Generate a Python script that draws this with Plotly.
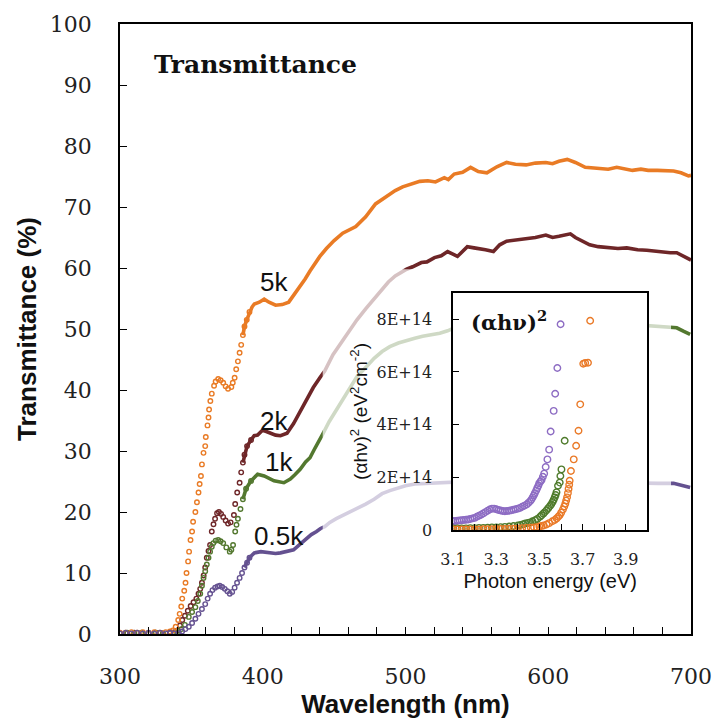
import plotly.graph_objects as go

# ---------------- data ----------------
SERIES = ["5k", "2k", "1k", "0.5k"]

wl_5k = [300, 304, 308, 312, 316, 320, 324, 328, 332, 335, 337,
         339, 340.8, 341.8, 342.9, 343.6, 345, 345.9, 346.6, 347.7, 348.4, 349.4, 350.5, 351.2,
         352.8, 353.9, 355, 355.8, 356.7, 357.4, 358.5, 359.7, 360.1, 361.3, 362, 362.4, 363.3,
         364.3, 365.9, 367, 368.8, 370.5, 372.3, 374, 375.7, 378, 379, 380.3, 381.4, 382.6, 383.8,
         384.9, 386.1, 387.2, 388.8, 390.7, 392.5, 394.1, 397.6, 401, 404.4, 409, 413.6, 418.2,
         421.6, 425.1, 429.7, 433.1, 437.7, 440, 444.6, 450, 456, 465.2, 472.1, 479, 485.9, 492.8,
         498, 504.3, 510, 515.7, 521, 527.2, 530, 534.1, 540, 545.6, 551, 557, 564, 570.8, 577,
         584.5, 591, 598.3, 603, 607.5, 613.3, 619, 625.9, 632, 642, 648, 653.4, 659, 664.9, 670,
         676.4, 682, 687.8, 693, 698.2, 700]
t_5k = [0.2, 0.2, 0.3, 0.2, 0.3, 0.2, 0.3, 0.2, 0.3, 0.4, 0.6,
        1.2, 2.3, 3.3, 4.5, 5.8, 7.1, 8.4, 10, 11.9, 13.5, 15.4, 16.8, 18.4,
        20, 21.6, 23.2, 24.6, 25.9, 27.8, 29.7, 30.8, 32.3, 34.2, 35.5, 36.8, 38.2,
        39.4, 40.7, 41.4, 41.8, 41.6, 41.2, 40.6, 40.2, 40.5, 41.2, 42, 43.4, 44.7, 46.1,
        47.4, 49, 50.4, 51.5, 52.8, 53.6, 54.1, 54.4, 54.9, 54.4, 53.9, 54, 54.4,
        55.5, 56.8, 58.2, 59.5, 61.2, 61.9, 63.2, 64.5, 65.7, 66.8, 68.4, 70.5, 71.6, 72.7,
        73.3, 73.8, 74.2, 74.3, 74.1, 74.8, 74.5, 75.4, 75.7, 76.5, 75.8, 75.6, 76.6, 77.3, 77.0,
        76.9, 77.2, 77.3, 77.1, 77.5, 77.8, 77.3, 76.5, 76.4, 76.2, 76.5, 76.2, 76.0, 76.2, 76.0,
        76.0, 75.9, 75.9, 75.6, 75.1, 75.2]

wl_2k = [300, 305, 310, 315, 320, 325, 330, 335, 338,
         340.2, 342, 343.6, 345.5, 347.5, 349.5, 351.5, 353.5, 355, 356.2, 357.4, 358.6, 359.7,
         360.8, 362, 363.1, 364.3, 365.5, 366.6, 368, 369.3, 370.8, 372.3, 374, 375.7, 377.5,
         379.8, 380.7, 382.1, 383.8, 384.9, 386.1, 387.2, 389, 391.8, 394, 396.4, 399.8, 402.5,
         405.5, 409, 412.4, 417, 421.6, 426.2, 430.8, 435.4, 440, 443.4, 449.2, 455, 460.6, 466,
         472.1, 478, 483.6, 488, 492.8, 497, 500.8, 505, 511.1, 515, 520.3, 525, 529.5, 536.4,
         543.3, 548, 552.4, 556, 561.6, 566, 570.8, 577, 584.5, 591, 598.3, 603, 607.5, 611,
         615.5, 619, 623.6, 629, 635, 642, 648.8, 655, 662.6, 669, 676.4, 681, 685.5, 690, 694,
         698.2, 700]
t_2k = [0.1, 0.1, 0.2, 0.1, 0.1, 0.2, 0.1, 0.2, 0.3,
        0.6, 1.4, 2.3, 3.0, 3.8, 4.6, 5.2, 5.8, 6.6, 7.4, 8.4, 9.6, 10.9,
        12.5, 13.6, 14.6, 16.8, 18.0, 18.9, 19.8, 20.0, 19.7, 19.2, 18.6, 18.1, 18.3,
        19.5, 21.3, 23.2, 24.8, 26.5, 28.1, 29.4, 30.8, 31.8, 32.5, 32.6, 33.4, 33.2,
        32.9, 32.6, 32.5, 32.9, 34.5, 36.4, 38.3, 40.4, 42, 43.1, 45.8, 47.8, 49.6, 51.5,
        53.3, 55.0, 56.6, 57.7, 58.7, 59.3, 59.8, 60.2, 60.9, 61.0, 61.7, 62.0, 62.7, 61.9,
        63.5, 63.3, 63.2, 63.0, 62.7, 63.8, 64.4, 64.6, 64.9, 65.0, 65.4, 65.0, 65.2, 65.4,
        65.6, 65.0, 64.4, 63.8, 63.5, 63.4, 63.2, 63.3, 63.0, 62.9, 62.7, 62.6, 62.5, 62.5, 62.0,
        61.4, 61.3]

wl_1k = [300, 305, 310, 315, 320, 325, 330, 335, 340,
         343, 345.5, 348.2, 350.5, 352.8, 354.5, 356.2, 357.4, 358.5, 359.7, 360.8, 362, 363.1,
         364.3, 365.4, 367, 368.8, 370.5, 372.3, 374.5, 376.9, 378, 379.2, 380.7, 381.6, 382.6,
         384.4, 386.1, 388.3, 391.8, 396.4, 401, 404, 407.9, 414.8, 419.3, 422.5, 426.2, 430,
         433.1, 436, 438.8, 442.3, 446.5, 451.5, 456, 460.6, 466, 472.1, 478, 483.6, 489, 495,
         500, 506.5, 512, 518, 524, 529.5, 535, 541, 546, 552.4, 560, 567, 575.4, 583, 590,
         598.3, 605, 611, 616.7, 621, 625.9, 634, 644.2, 655, 667.2, 676, 685.5, 690, 695, 699.4]
t_1k = [0.1, 0.2, 0.1, 0.2, 0.1, 0.2, 0.1, 0.2, 0.3,
        0.8, 1.5, 2.8, 3.6, 4.4, 5.4, 6.6, 7.9, 9.2, 10.3, 11.4, 12.5, 13.5,
        14.3, 14.9, 15.3, 15.4, 15.2, 14.9, 14.2, 13.5, 13.8, 14.6, 16.8, 17.9, 18.9,
        20.5, 22.1, 23.8, 25.1, 26.2, 25.9, 25.5, 25.1, 24.8, 25.4, 26.1, 27, 28.2,
        28.9, 30.2, 31.3, 32.9, 34.8, 36.7, 38.6, 40.4, 42.2, 43.7, 45.2, 46.3, 47.1, 47.7,
        48.1, 48.5, 48.8, 49, 49.3, 49.7, 50.3, 50.9, 51.2, 51.5, 51.7, 51.9, 52, 52.2, 52.1,
        52.3, 52.6, 52.4, 52.5, 52.3, 52, 51.4, 50.9, 50.8, 50.6, 50.5, 50.4, 50.2, 49.6, 49.1]

wl_05k = [300, 304, 308, 312, 316, 320, 324, 328, 332, 335, 338, 341.3,
          343.5, 345.8, 348.2, 350.5, 352.8, 355, 357.4, 359.7, 361.4, 363.1, 364.8, 366.6,
          368.3, 369.9, 371.6, 373.4, 375.2, 376.9, 378.6, 380.3, 382, 383.8, 385.5, 387.2, 389,
          390.7, 392.4, 394.1, 398.7, 402, 405.5, 409, 412.4, 417, 421.6, 426, 430.8, 434, 437.7,
          440.5, 443.4, 447, 451.5, 456, 460.6, 466, 472.1, 478, 483.6, 489, 495, 500, 506.5, 518,
          529.5, 540, 552.4, 564, 575.4, 587, 598.3, 610, 621.3, 632, 644.2, 655, 667.2, 677,
          687.8, 694, 699.4]
t_05k = [0.1, 0.2, 0.1, 0.2, 0.1, 0.2, 0.1, 0.2, 0.1, 0.2, 0.1, 0.1,
         0.4, 0.8, 1.2, 1.8, 2.5, 3.3, 4.1, 4.9, 5.8, 6.6, 7.2, 7.6,
         7.8, 7.9, 7.7, 7.4, 7.0, 6.6, 6.9, 7.6, 8.4, 9.2, 10.0, 10.9, 11.7,
         12.5, 12.9, 13.3, 13.5, 13.4, 13.3, 13.2, 13.3, 13.5, 13.8, 14.7, 15.7, 16.3, 16.8,
         17.3, 17.6, 18.3, 18.9, 19.4, 20, 20.6, 21.3, 22.1, 23, 23.5, 24, 24.3, 24.6, 24.7,
         24.8, 25.0, 25.1, 25.3, 25.4, 25.2, 25.2, 25.3, 25.4, 25.1, 24.8, 24.8, 24.7, 24.7,
         24.7, 24.4, 24.0]

# inset: photon energy (eV) vs (alpha h nu)^2 in units of 1E+14 eV^2 cm^-2
e_05k = [3.10, 3.11, 3.12, 3.13, 3.14, 3.15, 3.16, 3.17, 3.18, 3.19, 3.20, 3.21, 3.22, 3.23,
         3.24, 3.25, 3.26, 3.27, 3.28, 3.29, 3.30, 3.31, 3.32, 3.33, 3.34, 3.35, 3.36, 3.37,
         3.38, 3.39, 3.40, 3.41, 3.42, 3.43, 3.441, 3.449, 3.457, 3.463, 3.469, 3.474, 3.479,
         3.485, 3.490, 3.495, 3.499, 3.505, 3.510, 3.516, 3.522, 3.529, 3.537, 3.545, 3.552,
         3.566, 3.573, 3.583, 3.598]
a_05k = [0.34, 0.34, 0.35, 0.36, 0.37, 0.38, 0.39, 0.40, 0.42, 0.44, 0.46, 0.50, 0.54, 0.58,
         0.63, 0.68, 0.73, 0.78, 0.81, 0.81, 0.79, 0.76, 0.74, 0.72, 0.71, 0.72, 0.73, 0.75,
         0.77, 0.79, 0.81, 0.84, 0.88, 0.92, 0.97, 1.03, 1.09, 1.16, 1.24, 1.32, 1.40,
         1.50, 1.59, 1.68, 1.77, 1.84, 1.90, 2.02, 2.14, 2.39, 2.68, 3.05, 3.74,
         4.52, 5.17, 6.15, 7.81]

e_1k = [3.10, 3.12, 3.14, 3.16, 3.18, 3.20, 3.22, 3.24, 3.26, 3.28, 3.30, 3.32, 3.34, 3.36,
        3.38, 3.40, 3.412, 3.425, 3.435, 3.447, 3.457, 3.468, 3.48, 3.49, 3.503, 3.51, 3.518,
        3.525, 3.533, 3.541, 3.549, 3.555, 3.561, 3.566, 3.571, 3.575, 3.579, 3.586, 3.594,
        3.597, 3.602, 3.617]
a_1k = [0.06, 0.06, 0.06, 0.06, 0.07, 0.07, 0.08, 0.08, 0.09, 0.10, 0.10, 0.11, 0.12, 0.13,
        0.15, 0.17, 0.19, 0.22, 0.25, 0.27, 0.29, 0.33, 0.37, 0.42, 0.50, 0.56, 0.62,
        0.68, 0.75, 0.83, 0.91, 0.98, 1.06, 1.15, 1.24, 1.33, 1.43, 1.68, 1.80,
        2.05, 2.30, 3.39]

e_5k = [3.10, 3.12, 3.14, 3.16, 3.18, 3.20, 3.22, 3.24, 3.26, 3.28, 3.30, 3.32, 3.34, 3.36,
        3.38, 3.40, 3.42, 3.44, 3.46, 3.475, 3.488, 3.50, 3.51, 3.52, 3.533, 3.545, 3.56,
        3.571, 3.58, 3.587, 3.594, 3.601, 3.609, 3.615, 3.620, 3.624, 3.628, 3.632, 3.635,
        3.638, 3.64, 3.646, 3.659, 3.670, 3.681, 3.689, 3.703, 3.712, 3.725, 3.735]
a_5k = [0.02, 0.02, 0.02, 0.02, 0.02, 0.02, 0.02, 0.03, 0.03, 0.03, 0.04, 0.04, 0.04, 0.05,
        0.05, 0.06, 0.07, 0.08, 0.09, 0.10, 0.11, 0.13, 0.15, 0.17, 0.21, 0.26, 0.33,
        0.38, 0.44, 0.50, 0.56, 0.66, 0.78, 0.89, 1.00, 1.12, 1.24, 1.40, 1.56,
        1.72, 1.87, 2.24, 2.68, 3.20, 3.77, 4.77, 6.31, 6.34, 6.35, 7.94]

# tick labels
X_TICKS = [300, 400, 500, 600, 700]
Y_TICKS = list(range(0, 101, 10))
IX_TICKS = [3.1, 3.3, 3.5, 3.7, 3.9]
IX_TICKTEXT = ["3.1", "3.3", "3.5", "3.7", "3.9"]
IY_TICKS = [0, 2, 4, 6, 8]
IY_TICKTEXT = ["0", "2E+14", "4E+14", "6E+14", "8E+14"]

# ---------------- styling ----------------
COL = {"5k": "#E97B25", "2k": "#6E2628", "1k": "#53782F", "0.5k": "#645190"}
INSET_COL = {"0.5k": "#8D6CC3", "1k": "#4F7B2C", "5k": "#EA7A28"}
SPLIT = 392  # below: discrete circles, above: dense line
SERIF = "DejaVu Serif"
SANS = "Liberation Sans"

main = {"5k": (wl_5k, t_5k), "2k": (wl_2k, t_2k), "1k": (wl_1k, t_1k), "0.5k": (wl_05k, t_05k)}

fig = go.Figure()
for name in ["2k", "1k", "5k", "0.5k"]:
    wl, t = main[name]
    xm = [w for w in wl if w <= SPLIT]
    ym = [v for w, v in zip(wl, t) if w <= SPLIT]
    xl = [w for w in wl if w >= SPLIT - 6]
    yl = [v for w, v in zip(wl, t) if w >= SPLIT - 6]
    fig.add_trace(go.Scatter(x=xm, y=ym, mode="markers", showlegend=False,
                             marker=dict(symbol="circle-open", size=4.5, color=COL[name],
                                         line=dict(width=1.4, color=COL[name]))))
    fig.add_trace(go.Scatter(x=xl, y=yl, mode="lines", showlegend=False,
                             line=dict(color=COL[name], width=3.6)))

# translucent panel behind the inset (fades the curves underneath)
PANEL_X = [442, 686]
PANEL_Y = [2, 59.8]
fig.add_trace(go.Scatter(x=[PANEL_X[0], PANEL_X[1], PANEL_X[1], PANEL_X[0], PANEL_X[0]],
                         y=[PANEL_Y[0], PANEL_Y[0], PANEL_Y[1], PANEL_Y[1], PANEL_Y[0]],
                         mode="lines", fill="toself", fillcolor="rgba(255,255,255,0.72)",
                         line=dict(width=0), hoverinfo="skip", showlegend=False))

inset = {"0.5k": (e_05k, a_05k), "1k": (e_1k, a_1k), "5k": (e_5k, a_5k)}
for name in ["0.5k", "1k", "5k"]:
    e, a = inset[name]
    fig.add_trace(go.Scatter(x=e, y=a, mode="markers", xaxis="x2", yaxis="y2", showlegend=False,
                             marker=dict(symbol="circle-open", size=6.5, color=INSET_COL[name],
                                         line=dict(width=1.4, color=INSET_COL[name]))))

axis_common = dict(showline=True, linecolor="black", linewidth=1.5, mirror=True,
                   showgrid=False, zeroline=False, ticks="inside", ticklen=7,
                   tickwidth=1.3, tickcolor="black")

fig.update_layout(
    width=724, height=725,
    margin=dict(l=120, r=24, t=14, b=91),
    paper_bgcolor="white", plot_bgcolor="white",
    xaxis=dict(range=[300, 700], tickmode="array", tickvals=X_TICKS,
               minor=dict(ticks="inside", ticklen=7, tickwidth=1.3, tickcolor="black",
                          tick0=300, dtick=20, showgrid=False),
               tickfont=dict(family=SERIF, size=22, color="#222"), ticklabelstandoff=22,
               title=dict(text="<b>Wavelength (nm)</b>", standoff=6,
                          font=dict(family=SANS, size=26, color="#111")),
               **axis_common),
    yaxis=dict(range=[0, 100], tickmode="array", tickvals=Y_TICKS,
               tickfont=dict(family=SERIF, size=22, color="#222"), ticklabelstandoff=22,
               title=dict(text="<b>Transmittance (%)</b>", standoff=6,
                          font=dict(family=SANS, size=26, color="#111")),
               **axis_common),
    xaxis2=dict(domain=[0.5833, 0.9236], anchor="y2", range=[3.1, 4.0], tickmode="array",
                tickvals=IX_TICKS, ticktext=IX_TICKTEXT,
                minor=dict(ticks="inside", ticklen=6, tickwidth=1.3, tickcolor="black",
                           tick0=3.1, dtick=0.1, showgrid=False),
                tickfont=dict(family=SERIF, size=16, color="#222"), ticklabelstandoff=14,
                title=dict(text="Photon energy (eV)", standoff=6,
                           font=dict(family=SANS, size=20, color="#111")),
                **{**axis_common, "ticklen": 6}),
    yaxis2=dict(domain=[0.1705, 0.5592], anchor="x2", range=[0, 9], tickmode="array",
                tickvals=IY_TICKS, ticktext=IY_TICKTEXT,
                tickfont=dict(family=SERIF, size=16, color="#222"), ticklabelstandoff=16,
                title=dict(text="(αhν)<sup>2</sup> (eV<sup>2</sup>cm<sup>-2</sup>)", standoff=4,
                           font=dict(family=SANS, size=19, color="#111")),
                **{**axis_common, "ticklen": 6}),
)

ann = [
    dict(text="<b>Transmittance</b>", x=0.238, y=0.934, font=dict(family=SERIF, size=25)),
    dict(text="<b>(αhν)<sup>2</sup></b>", x=0.681, y=0.513, font=dict(family=SERIF, size=21)),
]
for a in ann:
    fig.add_annotation(xref="paper", yref="paper", showarrow=False,
                       xanchor="center", yanchor="middle",
                       **{**a, "font": {**a["font"], "color": "#111"}})

# curve labels
for txt, lx, ly in [("5k", 408, 57.7), ("2k", 408, 35.0), ("1k", 411.5, 28.2), ("0.5k", 411.5, 16.1)]:
    fig.add_annotation(x=lx, y=ly, xref="x", yref="y", text=txt, showarrow=False,
                       font=dict(family=SANS, size=26, color="#111"))

fig.write_html("out.html")
